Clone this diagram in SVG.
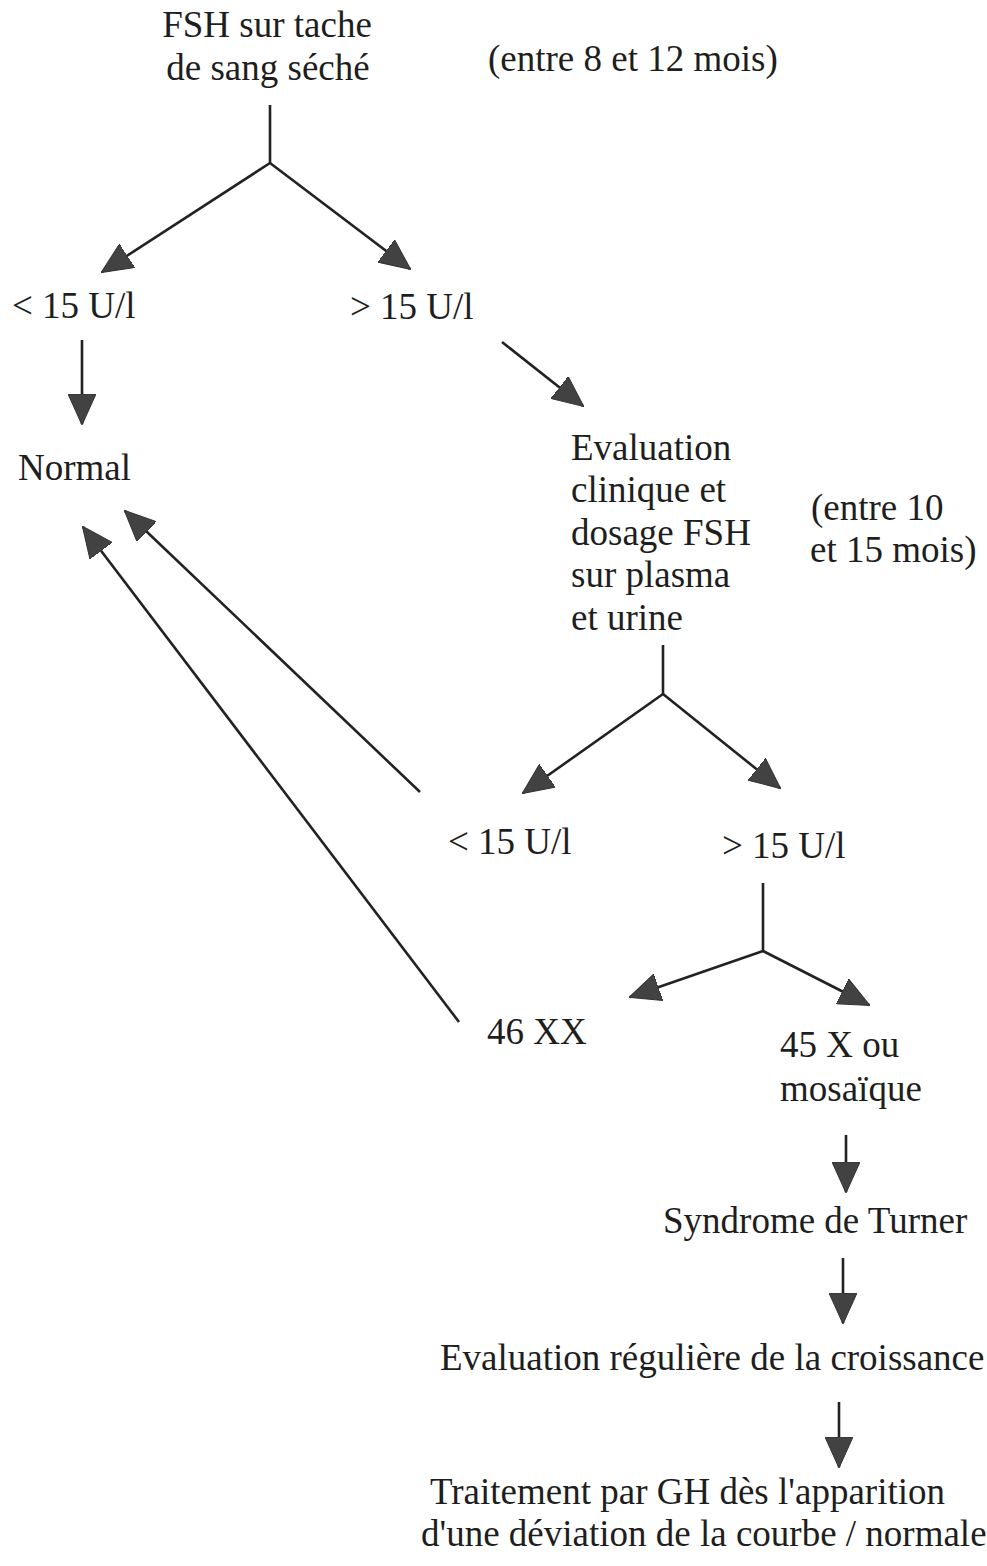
<svg xmlns="http://www.w3.org/2000/svg" width="987" height="1566" viewBox="0 0 987 1566">
<defs>
<style>
text{font-family:"Liberation Serif","Times New Roman",serif;font-size:37px;fill:#1e1e1e}
.c line{stroke:#222;stroke-width:2.6;fill:none}
.a{marker-end:url(#ah)}
</style>
<marker id="ah" viewBox="0 0 31 28" refX="30" refY="14" markerWidth="31" markerHeight="28" markerUnits="userSpaceOnUse" orient="auto">
<path d="M0,0 L31,14 L0,28 Z" fill="#424242" stroke="#333" stroke-width="1"/>
</marker>
</defs>
<rect width="987" height="1566" fill="#fff"/>
<g id="connectors" class="c">
<line x1="270" y1="105" x2="270" y2="164"/>
<line class="a" x1="270" y1="163" x2="102" y2="272"/>
<line class="a" x1="270" y1="163" x2="410" y2="269"/>
<line class="a" x1="82" y1="340" x2="82" y2="424"/>
<line class="a" x1="502" y1="342" x2="583" y2="406"/>
<line x1="663" y1="645" x2="663" y2="695"/>
<line class="a" x1="663" y1="694" x2="523" y2="793"/>
<line class="a" x1="663" y1="694" x2="780" y2="788"/>
<line class="a" x1="420" y1="792" x2="125" y2="511"/>
<line class="a" x1="459" y1="1022" x2="83" y2="527"/>
<line x1="763" y1="883" x2="763" y2="952"/>
<line class="a" x1="763" y1="951" x2="630" y2="997"/>
<line class="a" x1="763" y1="951" x2="869" y2="1005"/>
<line class="a" x1="846" y1="1135" x2="846" y2="1192"/>
<line class="a" x1="843" y1="1258" x2="843" y2="1323"/>
<line class="a" x1="839" y1="1402" x2="839" y2="1467"/>
</g>
<g id="n-fsh"><text x="267" y="37" text-anchor="middle">FSH sur tache</text><text x="268" y="80" text-anchor="middle">de sang séché</text></g>
<g id="n-age1"><text x="488" y="71">(entre 8 et 12 mois)</text></g>
<g id="n-lt1"><text x="12" y="318">&lt; 15 U/l</text></g>
<g id="n-gt1"><text x="350" y="319">&gt; 15 U/l</text></g>
<g id="n-normal"><text x="18" y="480">Normal</text></g>
<g id="n-eval"><text x="571" y="460">Evaluation</text><text x="571" y="502">clinique et</text><text x="571" y="545">dosage FSH</text><text x="571" y="587">sur plasma</text><text x="571" y="630">et urine</text></g>
<g id="n-age2"><text x="811" y="520">(entre 10</text><text x="810" y="562">et 15 mois)</text></g>
<g id="n-lt2"><text x="448" y="854">&lt; 15 U/l</text></g>
<g id="n-gt2"><text x="722" y="858">&gt; 15 U/l</text></g>
<g id="n-46xx"><text x="487" y="1044">46 XX</text></g>
<g id="n-45x"><text x="780" y="1057">45 X ou</text><text x="780" y="1101">mosaïque</text></g>
<g id="n-turner"><text x="663" y="1233">Syndrome de Turner</text></g>
<g id="n-evalcr"><text x="440" y="1370">Evaluation régulière de la croissance</text></g>
<g id="n-gh"><text x="430" y="1504">Traitement par GH dès l'apparition</text><text x="421" y="1546">d'une déviation de la courbe / normale</text></g>
</svg>
